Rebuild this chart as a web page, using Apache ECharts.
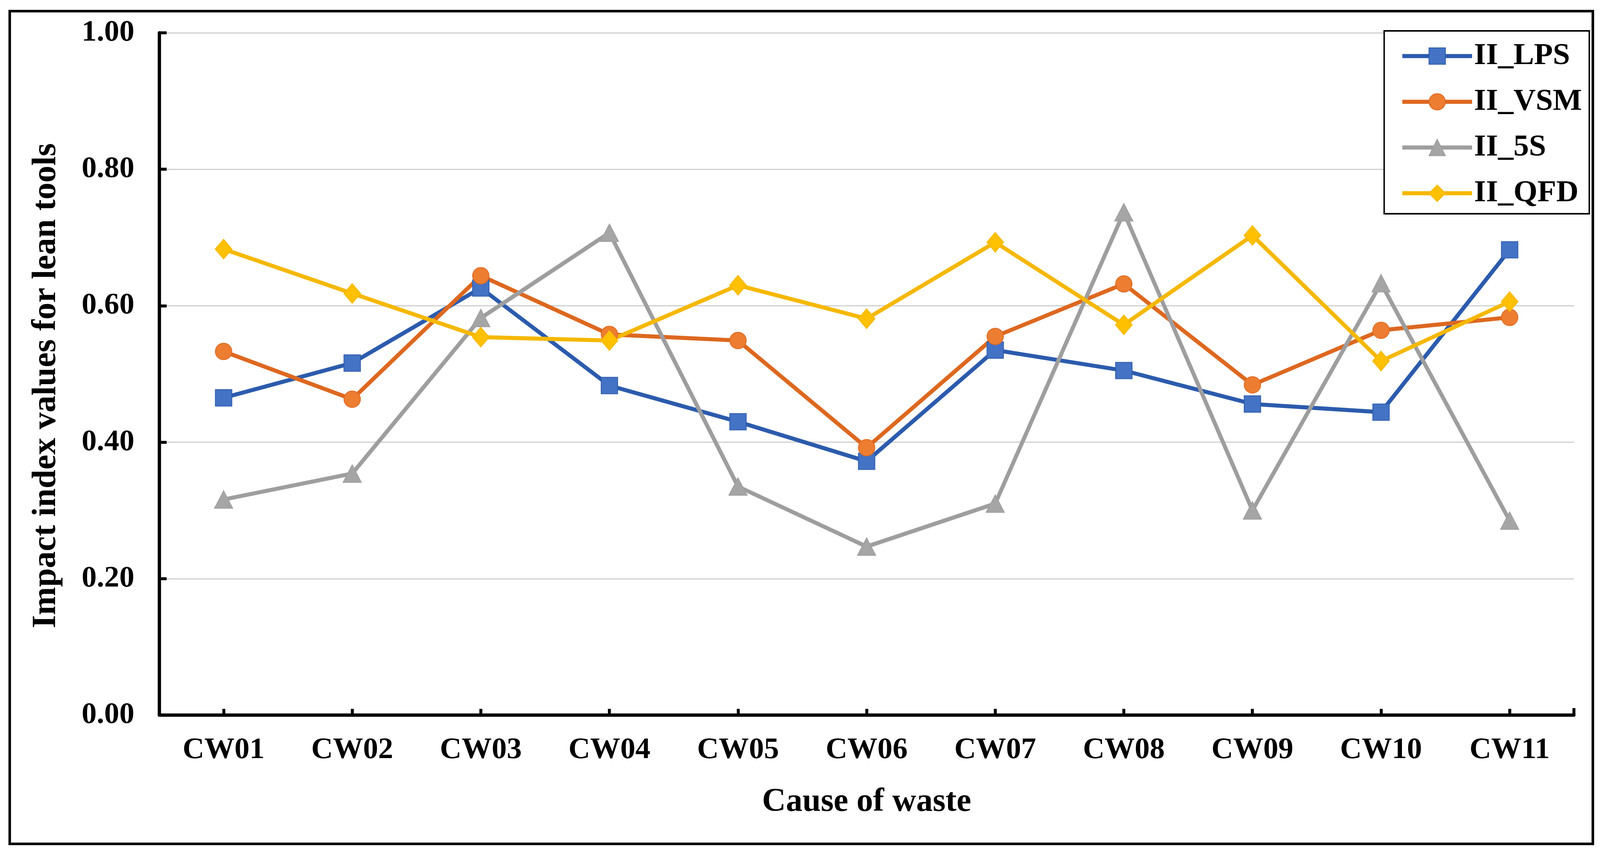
<!DOCTYPE html>
<html>
<head>
<meta charset="utf-8">
<script src="https://cdn.jsdelivr.net/npm/echarts@6/dist/echarts.min.js"></script>
<style>
html,body{margin:0;padding:0;background:#fff;overflow:hidden;width:100%;height:100%;}
#chart{width:100vw;height:100vh;}
</style>
</head>
<body>
<div id="chart"></div>
<script>
const categories = ['CW01','CW02','CW03','CW04','CW05','CW06','CW07','CW08','CW09','CW10','CW11'];
const seriesNames = ['II_LPS','II_VSM','II_5S','II_QFD'];
const lpsValues = [0.465, 0.516, 0.626, 0.483, 0.430, 0.372, 0.535, 0.505, 0.456, 0.444, 0.682];
const vsmValues = [0.533, 0.463, 0.644, 0.558, 0.549, 0.392, 0.555, 0.632, 0.484, 0.564, 0.583];
const fiveSValues = [0.316, 0.354, 0.582, 0.707, 0.335, 0.247, 0.310, 0.737, 0.300, 0.633, 0.285];
const qfdValues = [0.683, 0.618, 0.554, 0.549, 0.630, 0.581, 0.693, 0.572, 0.703, 0.519, 0.606];
const yTicks = [0, 0.2, 0.4, 0.6, 0.8, 1.0];

const FONT = '"Liberation Serif", "Times New Roman", serif';
const el = document.getElementById('chart');
const W = el.clientWidth || window.innerWidth || 4359;
const H = el.clientHeight || window.innerHeight || 2188;
const sx = W / 4359, sy = H / 2188, s = Math.min(sx, sy);
const X = v => v * sx, Y = v => v * sy, S = v => v * s;

const chart = echarts.init(el, null, {renderer: 'canvas', width: W, height: H});

function mk(name, data, symbol, size, lineColor, fillColor) {
  return {
    name: name,
    type: 'line',
    data: data,
    symbol: symbol,
    symbolSize: Array.isArray(size) ? size.map(S) : S(size),
    showSymbol: true,
    lineStyle: {color: lineColor, width: S(11)},
    itemStyle: {color: fillColor, borderColor: lineColor, borderWidth: S(2)},
    emphasis: {disabled: true},
    animation: false
  };
}

chart.setOption({
  animation: false,
  backgroundColor: '#ffffff',
  graphic: [{
    type: 'rect',
    shape: {x: X(26.5), y: Y(28.5), width: X(4313), height: Y(2131)},
    style: {fill: 'none', stroke: '#000', lineWidth: S(7)},
    z: 100
  }, {
    type: 'line',
    shape: {x1: X(4288), y1: Y(1830), x2: X(4288), y2: Y(1812)},
    style: {stroke: '#000', lineWidth: S(8)},
    z: 100
  }],
  grid: {left: X(434), right: X(71), top: Y(84), bottom: Y(358), containLabel: false},
  legend: {
    data: seriesNames,
    orient: 'vertical',
    left: X(3771),
    top: Y(79),
    padding: [Y(25), X(20), Y(13), X(44)],
    itemGap: Y(38),
    itemWidth: X(190),
    itemHeight: S(56),
    backgroundColor: '#ffffff',
    borderColor: '#000',
    borderWidth: S(4),
    lineStyle: {width: S(11)},
    textStyle: {fontFamily: FONT, fontWeight: 'bold', fontSize: S(84), color: '#000'},
    z: 10
  },
  xAxis: {
    type: 'category',
    data: categories,
    boundaryGap: true,
    name: 'Cause of waste',
    nameLocation: 'middle',
    nameGap: Y(181),
    nameTextStyle: {fontFamily: FONT, fontWeight: 'bold', fontSize: S(90), color: '#000'},
    axisLine: {show: true, lineStyle: {color: '#000', width: S(9)}},
    axisTick: {show: true, inside: true, alignWithLabel: true, length: Y(16), lineStyle: {color: '#000', width: S(8)}},
    axisLabel: {fontFamily: FONT, fontWeight: 'bold', fontSize: S(82), color: '#000', margin: Y(52), interval: 0},
    splitLine: {show: false}
  },
  yAxis: {
    type: 'value',
    min: yTicks[0],
    max: yTicks[yTicks.length - 1],
    interval: 0.2,
    name: 'Impact index values for lean tools',
    nameLocation: 'middle',
    nameGap: X(262),
    nameRotate: 90,
    nameTextStyle: {fontFamily: FONT, fontWeight: 'bold', fontSize: S(92), color: '#000', padding: [0, Y(60), 0, 0]},
    axisLine: {show: true, lineStyle: {color: '#000', width: S(9)}},
    axisTick: {show: true, inside: true, length: X(20), lineStyle: {color: '#000', width: S(8)}},
    axisLabel: {fontFamily: FONT, fontWeight: 'bold', fontSize: S(82), color: '#000', margin: X(68),
      formatter: function (v) { return v.toFixed(2); }},
    splitLine: {show: true, lineStyle: {color: '#D0D0D0', width: S(3)}}
  },
  series: [
    mk(seriesNames[0], lpsValues, 'rect', 45, '#2C5BAD', '#4472C4'),
    mk(seriesNames[1], vsmValues, 'circle', 45, '#DD6820', '#ED7D31'),
    mk(seriesNames[2], fiveSValues, 'triangle', [50, 48], '#9E9E9E', '#A5A5A5'),
    mk(seriesNames[3], qfdValues, 'diamond', [46, 54], '#F5B800', '#FFC000')
  ]
});
window.addEventListener('resize', function () { chart.resize(); });
</script>
</body>
</html>
